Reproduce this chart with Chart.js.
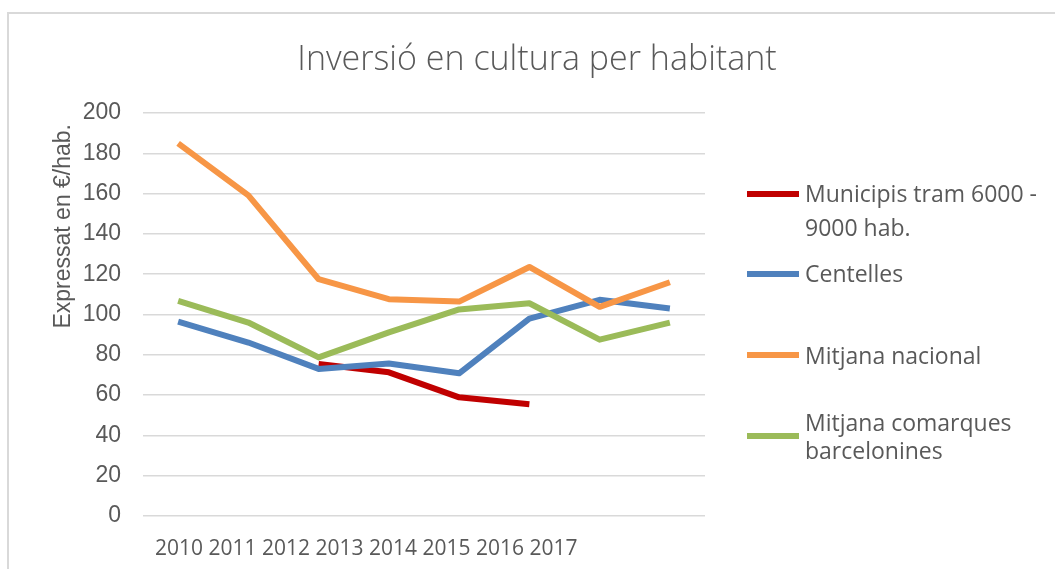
<!DOCTYPE html>
<html lang="ca">
<head>
<meta charset="utf-8">
<title>Inversió en cultura per habitant</title>
<script src="https://cdn.jsdelivr.net/npm/chart.js@4.4.1/dist/chart.umd.min.js"></script>
<style>
  body { margin: 0; background: #fff; }
  #wrap { position: relative; width: 1055px; height: 569px; overflow: hidden; }
  #frame { position: absolute; left: 7px; top: 12px; width: 1100px; height: 600px; border: 2px solid #d9d9d9; box-sizing: border-box; }
  canvas { position: absolute; left: 0; top: 0; }
  .leg { position: absolute; left: 805px; width: 250px; font-family: 'Open Sans', sans-serif; font-size: 23px; color: #595959; }
  .mark { position: absolute; left: 747px; width: 52px; height: 6px; }
</style>
</head>
<body>
<div id="wrap">
  <div id="frame"></div>
  <canvas id="chart" width="1055" height="569"></canvas>
  <div id="legend"></div>
</div>
<script>
// data
const years = ['2010', '2011', '2012', '2013', '2014', '2015', '2016', '2017'];
const municipis = [null, null, 75.4, 71.3, 58.9, 55.5, null, null];
const centelles = [96.5, 86.1, 73.0, 75.7, 70.8, 98.0, 107.3, 103.0];
const nacional = [184.9, 159.1, 117.5, 107.6, 106.4, 123.6, 103.8, 116.0];
const comarques = [106.8, 96.0, 78.7, 91.1, 102.5, 105.6, 87.5, 96.0];

const seriesNames = ['Municipis tram 6000 - 9000 hab.', 'Centelles', 'Mitjana nacional', 'Mitjana comarques barcelonines'];
const seriesColors = ['#C00000', '#4F81BD', '#F79646', '#9BBB59'];
const seriesData = [municipis, centelles, nacional, comarques];

const chartTitle = 'Inversió en cultura per habitant';
const txt = '#595959';

// legend (html, so the names can wrap like in the original)
const legPos = [
  { top: 176, lh: 34, mark: 191 },
  { top: 256, lh: 34, mark: 271 },
  { top: 338, lh: 34, mark: 352 },
  { top: 408, lh: 28, mark: 433 }
];
const legend = document.getElementById('legend');
seriesNames.forEach((name, i) => {
  const m = document.createElement('div');
  m.className = 'mark';
  m.style.top = legPos[i].mark + 'px';
  m.style.background = seriesColors[i];
  legend.appendChild(m);
  const t = document.createElement('div');
  t.className = 'leg';
  t.style.top = legPos[i].top + 'px';
  t.style.lineHeight = legPos[i].lh + 'px';
  t.textContent = name;
  legend.appendChild(t);
});

// title centred on the whole frame, and the year labels as one run of text under the plot
const extraText = {
  id: 'extraText',
  afterDraw(chart) {
    const ctx = chart.ctx;
    ctx.save();
    ctx.fillStyle = txt;
    ctx.font = '300 34px "Open Sans"';
    ctx.textAlign = 'center';
    ctx.textBaseline = 'middle';
    ctx.fillText(chartTitle, 537, 60);
    ctx.font = '21px "Open Sans"';
    ctx.textAlign = 'left';
    ctx.textBaseline = 'alphabetic';
    ctx.fillText(years.join(' '), chart.chartArea.left + 12, 555);
    ctx.restore();
  }
};

new Chart(document.getElementById('chart'), {
  type: 'line',
  data: {
    labels: years,
    datasets: seriesData.map((d, i) => ({
      label: seriesNames[i],
      data: d,
      borderColor: seriesColors[i],
      backgroundColor: seriesColors[i],
      borderWidth: 6,
      pointRadius: 0,
      tension: 0,
      fill: false,
      borderJoinStyle: 'round',
      order: 4 - i
    }))
  },
  options: {
    responsive: false,
    animation: false,
    events: [],
    layout: { padding: { left: 50, right: 350, top: 113, bottom: 0 } },
    plugins: {
      legend: { display: false },
      tooltip: { enabled: false },
      title: { display: false }
    },
    scales: {
      x: {
        offset: true,
        grid: { display: false },
        border: { display: false },
        ticks: { display: false },
        afterFit: s => { s.height = 53; }
      },
      y: {
        min: 0,
        max: 200,
        ticks: {
          stepSize: 20,
          color: txt,
          padding: 22,
          font: { family: 'Liberation Sans', size: 23 }
        },
        grid: { color: '#d9d9d9', lineWidth: 1.5, drawTicks: false },
        border: { display: false },
        title: {
          display: true,
          text: 'Expressat en €/hab. \u2009',
          align: 'end',
          color: txt,
          padding: 0,
          font: { family: 'Liberation Sans', size: 23 }
        },
        afterFit: s => { s.width = 93; }
      }
    }
  },
  plugins: [extraText]
});
</script>
</body>
</html>
